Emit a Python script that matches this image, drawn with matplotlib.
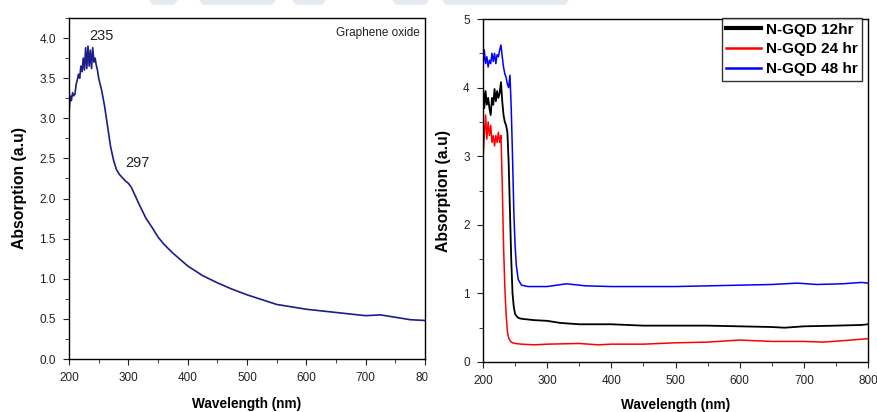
import matplotlib
matplotlib.use('Agg')
from matplotlib import pyplot as plt
from matplotlib.ticker import MultipleLocator
from matplotlib.patches import Polygon, Rectangle

plt.rcParams['font.family'] = ['Liberation Sans', 'DejaVu Sans']

# graphene oxide spectrum
go_wl = [200, 202, 204, 206, 208, 210, 212, 214, 216, 218, 220, 222, 224, 226, 228,
         230, 232, 234, 236, 238, 240, 242, 244, 246, 248, 250,
         255, 260, 265, 270, 275, 280, 285, 290, 295, 300, 305, 310, 320, 330, 340,
         350, 360, 375, 400, 425, 450, 475, 500, 525, 550, 575, 600, 625, 650, 675,
         700, 725, 750, 775, 800]
go_abs = [3.05, 3.28, 3.22, 3.32, 3.28, 3.3, 3.42, 3.48, 3.55, 3.5, 3.65, 3.58, 3.75, 3.6, 3.88,
          3.62, 3.9, 3.65, 3.85, 3.62, 3.88, 3.7, 3.75, 3.66, 3.6, 3.5,
          3.35, 3.15, 2.9, 2.65, 2.48, 2.36, 2.3, 2.26, 2.22, 2.19, 2.14, 2.06, 1.9, 1.75, 1.64,
          1.52, 1.43, 1.32, 1.16, 1.04, 0.95, 0.87, 0.8, 0.74, 0.68, 0.65, 0.62, 0.6, 0.58, 0.56,
          0.54, 0.55, 0.52, 0.49, 0.48]
go_peaks = [235, 297]

# N-GQD spectra
gqd12_wl = [200, 202, 204, 206, 208, 210, 212, 214, 216, 218, 220, 222, 224, 226, 228,
            230, 232, 234, 236, 238, 240, 242, 244, 246, 248, 250,
            253, 256, 260, 270, 280, 300, 320, 350, 400, 450, 500, 550, 600, 650, 670,
            700, 750, 790, 800]
gqd12_abs = [4.02, 3.7, 3.95, 3.75, 3.85, 3.7, 3.6, 3.85, 3.75, 3.98, 3.8, 3.95, 3.85, 3.92, 4.08,
             3.8, 3.6, 3.5, 3.45, 3.35, 2.9, 2.2, 1.5, 1.0, 0.8, 0.7,
             0.66, 0.64, 0.63, 0.62, 0.61, 0.6, 0.57, 0.55, 0.55, 0.53, 0.53, 0.53, 0.52, 0.51, 0.5,
             0.52, 0.53, 0.54, 0.55]

gqd24_wl = [200, 202, 204, 206, 208, 210, 212, 214, 216, 218, 220, 222, 224, 226, 228,
            230, 232, 234, 236, 238, 240, 243, 246, 250, 260, 280, 300, 350, 380, 400,
            450, 500, 550, 600, 650, 700, 730, 760, 800]
gqd24_abs = [2.95, 3.3, 3.6, 3.25, 3.5, 3.3, 3.45, 3.2, 3.3, 3.15, 3.3, 3.2, 3.35, 3.2, 3.3,
             2.6, 1.7, 1.1, 0.7, 0.45, 0.35, 0.3, 0.28, 0.27, 0.26, 0.25, 0.26, 0.27, 0.25, 0.26,
             0.26, 0.28, 0.29, 0.32, 0.3, 0.3, 0.29, 0.31, 0.34]

gqd48_wl = [200, 202, 204, 206, 208, 210, 212, 214, 216, 218, 220, 222, 224, 226, 228,
            230, 232, 234, 236, 238, 240, 242, 244, 246, 248, 250,
            252, 255, 260, 270, 300, 330, 360, 400, 450, 500, 550, 600, 650, 690,
            720, 760, 790, 800]
gqd48_abs = [4.3, 4.55, 4.35, 4.45, 4.3, 4.4, 4.35, 4.5, 4.38, 4.5, 4.35, 4.48, 4.45, 4.55, 4.62,
             4.45, 4.3, 4.2, 4.15, 4.05, 4.0, 4.18, 3.7, 3.0, 2.2, 1.7,
             1.4, 1.2, 1.12, 1.1, 1.1, 1.14, 1.11, 1.1, 1.1, 1.1, 1.11, 1.12, 1.13, 1.15,
             1.13, 1.14, 1.16, 1.15]

labels = ['N-GQD 12hr', 'N-GQD 24 hr', 'N-GQD 48 hr']

fig = plt.figure(figsize=(8.77, 4.12), dpi=100)

# faint watermark strips at the very top
for x0, x1 in [(150, 177), (200, 275), (293, 325), (393, 428), (443, 568)]:
    fig.patches.append(Polygon([(x0 / 877, 1), (x1 / 877, 1), ((x1 - 3) / 877, 1 - 4 / 412),
                                ((x0 + 3) / 877, 1 - 4 / 412)], closed=True,
                               transform=fig.transFigure, color='#e4eaf0', zorder=0))


def style(ax):
    ax.tick_params(which='both', direction='out', top=False, right=False, labelsize=8.5,
                   colors='#222222', pad=5)
    ax.tick_params(which='major', length=4.5)
    ax.tick_params(which='minor', length=3)
    for s in ax.spines.values():
        s.set_linewidth(1.0)
    ax.set_xlim(200, 800)
    ax.xaxis.set_major_locator(MultipleLocator(100))
    ax.xaxis.set_minor_locator(MultipleLocator(50))


ax1 = fig.add_axes([69 / 877, 1 - 359 / 412, 356 / 877, 341 / 412])
ax1.plot(go_wl, go_abs, color='#1c1c8a', lw=1.2)
style(ax1)
ax1.set_ylim(0, 4.25)
ax1.yaxis.set_major_locator(MultipleLocator(0.5))
ax1.yaxis.set_minor_locator(MultipleLocator(0.25))
ax1.yaxis.set_major_formatter(matplotlib.ticker.FormatStrFormatter('%.1f'))
ax1.set_xlabel('Wavelength (nm)', fontsize=9.8, fontweight='bold', labelpad=9)
ax1.set_ylabel('Absorption (a.u)', fontsize=11.3, fontweight='bold', labelpad=9)
ax1.text(0.985, 0.975, 'Graphene oxide', transform=ax1.transAxes, ha='right', va='top',
         fontsize=8.5, color='#222222')
ax1.text(go_peaks[0] + 19, 4.02, str(go_peaks[0]), ha='center', va='center', fontsize=10.5, color='#222222')
ax1.text(go_peaks[1] + 18, 2.44, str(go_peaks[1]), ha='center', va='center', fontsize=10.5, color='#222222')

ax2 = fig.add_axes([483 / 877, 1 - 362 / 412, 385 / 877, 343 / 412])
ax2.plot(gqd12_wl, gqd12_abs, color='black', lw=1.3, label=labels[0])
ax2.plot(gqd24_wl, gqd24_abs, color='red', lw=1.1, label=labels[1])
ax2.plot(gqd48_wl, gqd48_abs, color='blue', lw=1.1, label=labels[2])
style(ax2)
ax2.set_ylim(0, 5)
ax2.yaxis.set_major_locator(MultipleLocator(1))
ax2.yaxis.set_minor_locator(MultipleLocator(0.5))
ax2.set_xlabel('Wavelength (nm)', fontsize=9.8, fontweight='bold', labelpad=8)
ax2.set_ylabel('Absorption (a.u)', fontsize=11.3, fontweight='bold', labelpad=9)
leg = ax2.legend(loc='upper right', bbox_to_anchor=(0.985, 1.003),
                 prop={'weight': 'bold', 'size': 11}, frameon=True, fancybox=False,
                 handlelength=2.3, handletextpad=0.3, borderpad=0.3, labelspacing=0.38,
                 borderaxespad=0)
leg.get_frame().set_edgecolor('black')
leg.get_frame().set_linewidth(1.0)
leg.get_lines()[0].set_linewidth(3)
leg.get_lines()[1].set_linewidth(1.8)
leg.get_lines()[2].set_linewidth(1.8)

# the left panel's last tick label is cut off in the reference
fig.patches.append(Rectangle((428 / 877, 1 - 382 / 412), 8 / 877, 20 / 412,
                             transform=fig.transFigure, color='white', zorder=5))

fig.savefig('out.png', dpi=100)
